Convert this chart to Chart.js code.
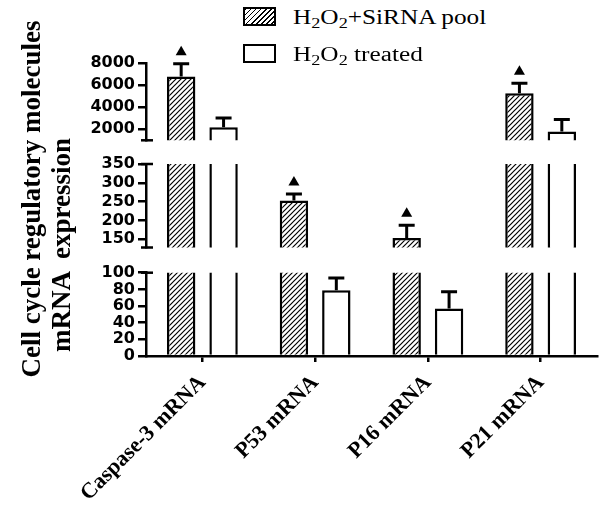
<!DOCTYPE html>
<html>
<head>
<meta charset="utf-8">
<script src="https://cdn.jsdelivr.net/npm/chart.js@4.4.1/dist/chart.umd.min.js"></script>
<style>
  html, body { margin: 0; padding: 0; background: #fff; }
  #fig { position: relative; width: 605px; height: 509px; overflow: hidden; background: #fff; }
  #fig canvas { position: absolute; left: 0; }
  .ytitle {
    position: absolute; transform-origin: 0 0;
    transform: rotate(-90deg) translate(-50%, -50%);
    white-space: pre; font-family: "Liberation Serif", "Times New Roman", serif;
    font-weight: bold; font-size: 27px; line-height: 1; color: #000;
  }
  .lg-box { position: absolute; left: 243px; width: 29px; height: 15px; border: 2.5px solid #000; background: #fff; }
  .lg-box.hatch { background: repeating-linear-gradient(135deg, #000 0 1.2px, #fff 1.2px 3.6px); }
  .lg-text {
    position: absolute; left: 293px; white-space: nowrap;
    font-family: "Liberation Serif", "Times New Roman", serif; font-size: 21.6px; line-height: 1;
    transform: scaleX(1.17); transform-origin: 0 0; color: #000;
  }
  .lg-text sub { font-size: 0.72em; vertical-align: -0.28em; line-height: 0; }
</style>
</head>
<body>
<div id="fig">
  <canvas id="segTop" width="605" height="120" style="top:40px"></canvas>
  <canvas id="segMid" width="605" height="115" style="top:145px"></canvas>
  <canvas id="segLow" width="605" height="259" style="top:250px"></canvas>

  <div class="ytitle" style="left:31px; top:199px">Cell cycle regulatory molecules</div>
  <div class="ytitle" style="left:61px; top:245px">mRNA  expression</div>

  <div class="lg-box hatch" style="top:7px"></div>
  <div class="lg-text" style="top:7px">H<sub>2</sub>O<sub>2</sub>+SiRNA pool</div>
  <div class="lg-box" style="top:44px"></div>
  <div class="lg-text" style="top:43.6px">H<sub>2</sub>O<sub>2</sub> treated</div>
</div>

<script>
// Cell cycle regulatory molecules, broken y axis (three segments)

const categories = ['Caspase-3 mRNA', 'P53 mRNA', 'P16 mRNA', 'P21 mRNA'];

// H2O2 + SiRNA pool (hatched)
const poolValues = [6800, 253, 153, 5270];
const poolErrors = [1150, 17, 34, 910];
const poolMarked = [true, true, true, true];   // filled triangle above the bar

// H2O2 treated (open)
const treatedValues = [2180, 79, 57, 1800];
const treatedErrors = [850, 14.5, 20, 1100];

// axis segments, top to bottom
const topRange = [1000, 8000];
const topTicks = [2000, 4000, 6000, 8000];
const midRange = [128, 350];
const midTicks = [150, 200, 250, 300, 350];
const lowRange = [0, 100];
const lowTicks = [0, 20, 40, 60, 80, 100];

// diagonal hatch pattern for the SiRNA pool bars
function makeHatch() {
    const s = 5;
    const c = document.createElement('canvas');
    c.width = s; c.height = s;
    const g = c.getContext('2d');
    g.fillStyle = '#fff';
    g.fillRect(0, 0, s, s);
    g.strokeStyle = '#000';
    g.lineWidth = 1.2;
    g.beginPath();
    g.moveTo(-1, s + 1); g.lineTo(s + 1, -1);
    g.moveTo(-1, 1); g.lineTo(1, -1);
    g.moveTo(s - 1, s + 1); g.lineTo(s + 1, s - 1);
    g.stroke();
    return g.createPattern(c, 'repeat');
}

// error bars (upper half only) and significance triangles
const errorBarPlugin = {
    id: 'errorBars',
    afterDatasetsDraw(chart) {
        const ctx = chart.ctx;
        const a = chart.chartArea;
        const y = chart.scales.y;
        ctx.save();
        ctx.beginPath();
        ctx.rect(a.left, a.top - 3, a.right - a.left, a.bottom - a.top + 3);
        ctx.clip();
        ctx.strokeStyle = '#000';
        ctx.lineWidth = 3;
        chart.data.datasets.forEach((ds, i) => {
            chart.getDatasetMeta(i).data.forEach((bar, j) => {
                const top = y.getPixelForValue(ds.data[j]);
                const cap = y.getPixelForValue(ds.data[j] + ds.errors[j]);
                ctx.beginPath();
                ctx.moveTo(bar.x, top);
                ctx.lineTo(bar.x, cap);
                ctx.moveTo(bar.x - 8, cap);
                ctx.lineTo(bar.x + 8, cap);
                ctx.stroke();
            });
        });
        ctx.restore();

        ctx.save();
        ctx.fillStyle = '#000';
        chart.data.datasets.forEach((ds, i) => {
            if (!ds.marked) return;
            chart.getDatasetMeta(i).data.forEach((bar, j) => {
                if (!ds.marked[j]) return;
                const cap = y.getPixelForValue(ds.data[j] + ds.errors[j]);
                if (cap < a.top - 4 || cap > a.bottom) return;
                const cy = cap - 13;
                ctx.beginPath();
                ctx.moveTo(bar.x, cy - 5);
                ctx.lineTo(bar.x + 5.5, cy + 4.5);
                ctx.lineTo(bar.x - 5.5, cy + 4.5);
                ctx.closePath();
                ctx.fill();
            });
        });
        ctx.restore();
    }
};

// small caps on the y axis where it is broken
const axisBreakPlugin = {
    id: 'axisBreak',
    afterDraw(chart, args, opts) {
        const ctx = chart.ctx;
        const a = chart.chartArea;
        ctx.save();
        ctx.strokeStyle = '#000';
        ctx.lineWidth = 2.5;
        ctx.beginPath();
        if (opts.top) { ctx.moveTo(a.left - 5, a.top); ctx.lineTo(a.left + 7, a.top); }
        if (opts.bottom) { ctx.moveTo(a.left - 5, a.bottom); ctx.lineTo(a.left + 7, a.bottom); }
        ctx.stroke();
        ctx.restore();
    }
};

const hatch = makeHatch();

function makeSegment(canvasId, range, tickValues, pad, showX, breaks) {
    const canvas = document.getElementById(canvasId);
    return new Chart(canvas.getContext('2d'), {
        type: 'bar',
        data: {
            labels: categories,
            datasets: [{
                label: 'H2O2+SiRNA pool',
                data: poolValues,
                errors: poolErrors,
                marked: poolMarked,
                backgroundColor: hatch,
                borderColor: '#000',
                borderWidth: 2.5,
                clip: 0
            }, {
                label: 'H2O2 treated',
                data: treatedValues,
                errors: treatedErrors,
                backgroundColor: '#fff',
                borderColor: '#000',
                borderWidth: 2.5,
                clip: 0
            }]
        },
        options: {
            responsive: false,
            animation: false,
            devicePixelRatio: 1,
            categoryPercentage: 0.752,
            barPercentage: 0.67,
            layout: { padding: pad },
            plugins: {
                legend: { display: false },
                tooltip: { enabled: false },
                axisBreak: breaks
            },
            scales: {
                x: {
                    display: showX,
                    grid: {
                        display: true, drawOnChartArea: false, offset: false,
                        drawTicks: true, tickLength: 6, color: '#000', lineWidth: 2.5
                    },
                    border: { display: true, color: '#000', width: 2.5 },
                    ticks: {
                        color: '#000', minRotation: 45, maxRotation: 45, padding: 8,
                        autoSkip: false,
                        font: { family: '"Liberation Serif", "Times New Roman", serif', weight: 'bold', size: 22 }
                    },
                    afterFit: (scale) => { if (showX) scale.height = 153; }
                },
                y: {
                    min: range[0],
                    max: range[1],
                    grid: {
                        display: true, drawOnChartArea: false,
                        drawTicks: true, tickLength: 8, color: '#000', lineWidth: 2.5
                    },
                    border: { display: true, color: '#000', width: 2.5 },
                    ticks: {
                        color: '#000', padding: 3, autoSkip: false,
                        font: { family: '"DejaVu Sans", sans-serif', weight: 'bold', size: 16 },
                        callback: (v) => String(v)
                    },
                    afterBuildTicks: (scale) => { scale.ticks = tickValues.map(v => ({ value: v })); },
                    afterFit: (scale) => { scale.width = 60; }
                }
            }
        },
        plugins: [errorBarPlugin, axisBreakPlugin]
    });
}

makeSegment('segTop', topRange, topTicks, { left: 86, right: 8, top: 23.3, bottom: 19.7 }, false, { top: false, bottom: true });
makeSegment('segMid', midRange, midTicks, { left: 86, right: 8, top: 19, bottom: 11.7 }, false, { top: true, bottom: true });
makeSegment('segLow', lowRange, lowTicks, { left: 86, right: 8, top: 22.7, bottom: 0 }, true, { top: true, bottom: false });
</script>
</body>
</html>
